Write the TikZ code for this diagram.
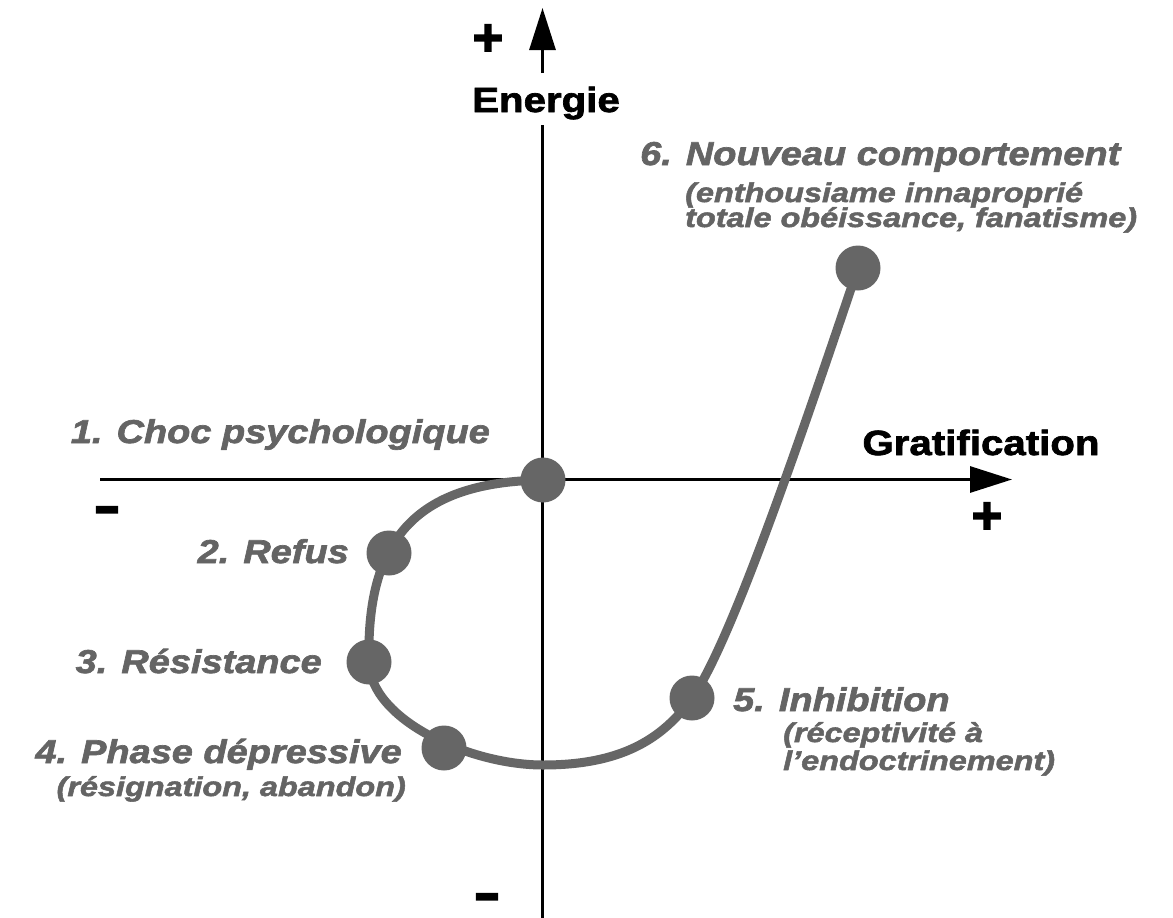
\documentclass[tikz,border=0pt]{standalone}
\usepackage{fontspec}
\setmainfont{Liberation Sans}
\newfontfamily\labfont[FakeStretch=1.15,FakeBold=2]{Liberation Sans}
\newfontfamily\subfont[FakeStretch=1.2,FakeBold=2]{Liberation Sans}
\newfontfamily\signfont[FakeBold=3]{Liberation Sans}
\usetikzlibrary{arrows.meta}
\definecolor{curvegray}{RGB}{102,102,102}
\definecolor{textgray}{RGB}{100,100,100}
\begin{document}
\begin{tikzpicture}[x=1pt,y=-1pt,
  axis/.style={line width=3pt, draw=black},
  arr/.style={-{Triangle[length=42pt,width=26pt]}},
  dot/.style={circle, fill=curvegray, minimum size=45pt, inner sep=0pt},
  curve/.style={line width=9pt, draw=curvegray},
  lab/.style={font=\labfont\bfseries\itshape\fontsize{33}{36}\selectfont, text=textgray, inner sep=0pt},
  sub/.style={font=\subfont\bfseries\itshape\fontsize{27}{25}\selectfont, text=textgray, inner sep=0pt},
  axlab/.style={font=\labfont\bfseries\fontsize{35}{38}\selectfont, text=black, inner sep=0pt},
  sign/.style={font=\signfont\bfseries\fontsize{52}{52}\selectfont, text=black, inner sep=0pt}]
\path[use as bounding box] (0,0) rectangle (1173,918);
% axis coordinates
\coordinate (xl) at (100,479.5);
\coordinate (xr) at (1012,479.5);
\coordinate (yb) at (542.5,918);
\coordinate (ygb) at (542.5,125);
\coordinate (ygt) at (542.5,73);
\coordinate (yt) at (542.5,8);
\draw[axis,arr] (xl) -- (xr);
\draw[axis] (yb) -- (ygb);
\draw[axis,arr] (ygt) -- (yt);
% axis labels and signs
\node[axlab, anchor=base] (energie) at (546,112) {Energie};
\node[axlab, anchor=base] (grat) at (981,455) {Gratification};
\node[sign] (ytop) at (488,40) {+};
\node[sign] (xright) at (987,518) {+};
\node[sign, xscale=1.5] (xleft) at (107,515) {-};
\node[sign, xscale=1.5] (ybot) at (487,902) {-};
% curve points
\coordinate (c1) at (543,480);
\coordinate (c2) at (389,553);
\coordinate (c3) at (369,662);
\coordinate (c4) at (444,748);
\coordinate (cb) at (543,765);
\coordinate (c5) at (692,698);
\coordinate (c6) at (858,268);
\draw[curve] (c1) .. controls (420,482) and (366,535) .. (c3)
  .. controls (370,720) and (470,765) .. (cb)
  .. controls (620,765) and (662,740) .. (c5)
  .. controls (730,645) and (800,440) .. (c6);
\node[dot] (p1) at (c1) {};
\node[dot] (p2) at (c2) {};
\node[dot] (p3) at (c3) {};
\node[dot] (p4) at (c4) {};
\node[dot] (p5) at (c5) {};
\node[dot] (p6) at (c6) {};
% labels
\node[lab, anchor=base east] (l1) at (490,443) {1. Choc psychologique};
\node[lab, anchor=base east] (l2) at (349,563) {2. Refus};
\node[lab, anchor=base east] (l3) at (322,673) {3. Résistance};
\node[lab, anchor=base east] (l4) at (402,763) {4. Phase dépressive};
\node[sub, anchor=base east] (l4a) at (406,796) {(résignation, abandon)};
\node[lab, anchor=base west] (l5) at (733,711) {5. Inhibition};
\node[sub, anchor=base west] (l5a) at (783,742) {(réceptivité à};
\node[sub, anchor=base west] (l5b) at (783,770) {l’endoctrinement)};
\node[lab, anchor=base west] (l6) at (640,165) {6. Nouveau comportement};
\node[sub, anchor=base west] (l6a) at (685,202) {(enthousiame innaproprié};
\node[sub, anchor=base west] (l6b) at (685,227) {totale obéissance, fanatisme)};
\end{tikzpicture}
\end{document}
